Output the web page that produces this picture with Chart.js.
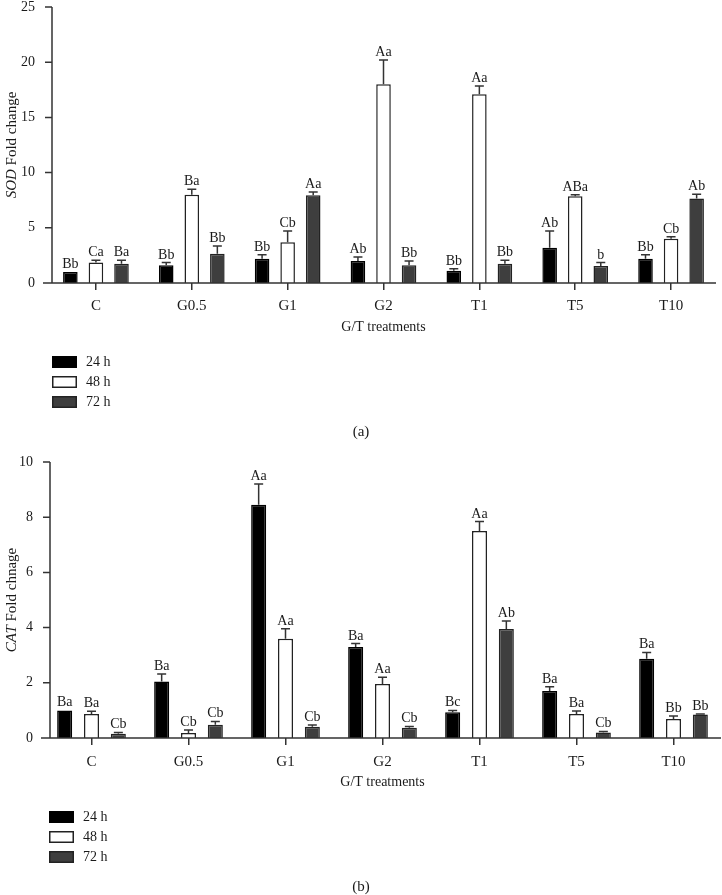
<!DOCTYPE html>
<html>
<head>
<meta charset="utf-8">
<script src="https://cdn.jsdelivr.net/npm/chart.js@4.4.1/dist/chart.umd.min.js"></script>
<style>
    html, body { margin: 0; padding: 0; background: #fff; }
    canvas { display: block; }
</style>
</head>
<body>
<canvas id="sodChart" width="722" height="448"></canvas>
<canvas id="catChart" width="722" height="447"></canvas>
<script>
// 处理组与时间点
const treatments = ['C', 'G0.5', 'G1', 'G2', 'T1', 'T5', 'T10'];
const timeLabels = ['24 h', '48 h', '72 h'];

// (a) SOD 倍数变化
const sod24 = [1.0, 1.6, 2.2, 2.0, 1.1, 3.2, 2.2];
const sod48 = [1.85, 8.0, 3.7, 18.0, 17.1, 7.85, 4.0];
const sod72 = [1.75, 2.65, 7.95, 1.6, 1.75, 1.55, 7.65];
const sodErr24 = [0, 0.25, 0.35, 0.35, 0.2, 1.5, 0.35];
const sodErr48 = [0.2, 0.5, 1.0, 2.2, 0.75, 0.15, 0.2];
const sodErr72 = [0.3, 0.7, 0.3, 0.4, 0.3, 0.3, 0.4];
const sodLetters24 = ['Bb', 'Bb', 'Bb', 'Ab', 'Bb', 'Ab', 'Bb'];
const sodLetters48 = ['Ca', 'Ba', 'Cb', 'Aa', 'Aa', 'ABa', 'Cb'];
const sodLetters72 = ['Ba', 'Bb', 'Aa', 'Bb', 'Bb', 'b', 'Ab'];
const sodTicks = [0, 5, 10, 15, 20, 25];

// (b) CAT 倍数变化
const cat24 = [1.0, 2.05, 8.45, 3.3, 0.93, 1.7, 2.87];
const cat48 = [0.87, 0.18, 3.6, 1.96, 7.5, 0.87, 0.69];
const cat72 = [0.15, 0.48, 0.41, 0.37, 3.95, 0.2, 0.85];
const catErr24 = [0, 0.27, 0.75, 0.12, 0.07, 0.16, 0.23];
const catErr48 = [0.1, 0.11, 0.36, 0.24, 0.34, 0.11, 0.11];
const catErr72 = [0.05, 0.12, 0.06, 0.05, 0.29, 0.04, 0.02];
const catLetters24 = ['Ba', 'Ba', 'Aa', 'Ba', 'Bc', 'Ba', 'Ba'];
const catLetters48 = ['Ba', 'Cb', 'Aa', 'Aa', 'Aa', 'Ba', 'Bb'];
const catLetters72 = ['Cb', 'Cb', 'Cb', 'Cb', 'Ab', 'Cb', 'Bb'];
const catTicks = [0, 2, 4, 6, 8, 10];

const FONT = '"Liberation Serif", "Times New Roman", serif';
const INK = '#1a1a1a';
const AXIS = '#333';

const barFills = ['#000000', '#ffffff', '#3e3e3e'];
const barBorders = ['#000000', '#222222', '#222222'];

/**
 * 误差线、显著性字母、坐标轴、图例等
 */
const panelDecor = {
    id: 'panelDecor',
    afterDatasetsDraw(chart) {
        const ctx = chart.ctx;
        const yScale = chart.scales.y;
        chart.data.datasets.forEach((ds, i) => {
            const meta = chart.getDatasetMeta(i);
            meta.data.forEach((bar, j) => {
                const err = ds.errors[j];
                const yTop = yScale.getPixelForValue(ds.data[j] + err);
                ctx.save();
                if (err > 0) {
                    ctx.strokeStyle = AXIS;
                    ctx.lineWidth = 1.5;
                    ctx.beginPath();
                    ctx.moveTo(bar.x, bar.y);
                    ctx.lineTo(bar.x, yTop);
                    ctx.moveTo(bar.x - 4.5, yTop);
                    ctx.lineTo(bar.x + 4.5, yTop);
                    ctx.stroke();
                }
                ctx.fillStyle = INK;
                ctx.font = '14px ' + FONT;
                ctx.textAlign = 'center';
                ctx.textBaseline = 'alphabetic';
                ctx.fillText(ds.letters[j], bar.x, yTop - 4);
                ctx.restore();
            });
        });
    },
    afterDraw(chart) {
        const o = chart.options.plugins.panelDecor;
        const ctx = chart.ctx;
        const area = chart.chartArea;
        const yScale = chart.scales.y;

        ctx.save();
        ctx.strokeStyle = AXIS;
        ctx.lineWidth = 1.5;
        ctx.beginPath();
        // y 轴
        ctx.moveTo(o.yAxisX, area.bottom);
        ctx.lineTo(o.yAxisX, area.top);
        yScale.ticks.forEach(t => {
            const py = yScale.getPixelForValue(t.value);
            ctx.moveTo(o.yAxisX - 7, py);
            ctx.lineTo(o.yAxisX, py);
        });
        // x 轴
        ctx.moveTo(o.xAxisStart, area.bottom);
        ctx.lineTo(o.xAxisEnd, area.bottom);
        ctx.stroke();

        // y 轴标题（基因名斜体）
        const cy = (area.top + area.bottom) / 2;
        ctx.translate(12.5, cy);
        ctx.rotate(-Math.PI / 2);
        ctx.font = 'italic 15px ' + FONT;
        const w1 = ctx.measureText(o.gene).width;
        ctx.font = '15px ' + FONT;
        const w2 = ctx.measureText(o.yTitleRest).width;
        const sx = -(w1 + w2) / 2;
        ctx.fillStyle = INK;
        ctx.textAlign = 'left';
        ctx.textBaseline = 'middle';
        ctx.font = 'italic 15px ' + FONT;
        ctx.fillText(o.gene, sx, 0);
        ctx.font = '15px ' + FONT;
        ctx.fillText(o.yTitleRest, sx + w1, 0);
        ctx.restore();

        // 图例
        ctx.save();
        chart.data.datasets.forEach((ds, i) => {
            const ly = area.bottom + 73 + i * 20;
            ctx.fillStyle = ds.backgroundColor;
            ctx.fillRect(o.legendX, ly, 25, 12);
            ctx.strokeStyle = ds.borderColor;
            ctx.lineWidth = 1.5;
            ctx.strokeRect(o.legendX + 0.75, ly + 0.75, 23.5, 10.5);
            ctx.fillStyle = INK;
            ctx.font = '14px ' + FONT;
            ctx.textAlign = 'left';
            ctx.textBaseline = 'middle';
            ctx.fillText(ds.label, o.legendX + 34, ly + 6.5);
        });

        // 分图标号
        ctx.font = '15px ' + FONT;
        ctx.textAlign = 'center';
        ctx.textBaseline = 'middle';
        ctx.fillText(o.panel, 361, area.bottom + 149);
        ctx.restore();
    }
};

function buildDatasets(values, errors, letters, cp, bp) {
    return values.map((v, i) => ({
        label: timeLabels[i],
        data: v,
        errors: errors[i],
        letters: letters[i],
        backgroundColor: barFills[i],
        borderColor: barBorders[i],
        borderWidth: 1.5,
        categoryPercentage: cp,
        barPercentage: bp
    }));
}

function makeChart(canvasId, cfg) {
    const ctx = document.getElementById(canvasId);
    return new Chart(ctx, {
        type: 'bar',
        data: {
            labels: treatments,
            datasets: buildDatasets(cfg.values, cfg.errors, cfg.letters, cfg.cp, cfg.bp)
        },
        options: {
            responsive: false,
            animation: false,
            devicePixelRatio: 1,
            layout: { padding: cfg.padding },
            plugins: {
                legend: { display: false },
                tooltip: { enabled: false },
                panelDecor: cfg.decor
            },
            scales: {
                x: {
                    offset: true,
                    border: { display: false },
                    grid: {
                        display: true,
                        drawOnChartArea: false,
                        drawTicks: true,
                        tickLength: 7,
                        offset: false,
                        color: AXIS,
                        lineWidth: 1.5
                    },
                    ticks: {
                        color: INK,
                        padding: cfg.xLabelPad,
                        maxRotation: 0,
                        autoSkip: false,
                        font: { family: FONT, size: 15 }
                    },
                    title: {
                        display: true,
                        text: 'G/T treatments',
                        color: INK,
                        padding: 0,
                        font: { family: FONT, size: 14 }
                    },
                    afterFit(scale) {
                        scale.height = 53;
                        scale.paddingLeft = 0;
                        scale.paddingRight = 0;
                    }
                },
                y: {
                    min: 0,
                    max: cfg.ticks[cfg.ticks.length - 1],
                    border: { display: false },
                    grid: { display: false, drawTicks: false },
                    ticks: {
                        stepSize: cfg.ticks[1] - cfg.ticks[0],
                        color: INK,
                        padding: cfg.yLabelPad,
                        font: { family: FONT, size: 14 }
                    },
                    afterFit(scale) {
                        scale.width = cfg.yWidth;
                        scale.paddingTop = 0;
                        scale.paddingBottom = 0;
                    }
                }
            }
        },
        plugins: [panelDecor]
    });
}

makeChart('sodChart', {
    values: [sod24, sod48, sod72],
    errors: [sodErr24, sodErr48, sodErr72],
    letters: [sodLetters24, sodLetters48, sodLetters72],
    ticks: sodTicks,
    cp: 0.8,
    bp: 0.57,
    padding: { top: 7, left: 0, right: 3, bottom: 112 },
    yWidth: 48,
    yLabelPad: 13,
    xLabelPad: 7,
    decor: {
        yAxisX: 52, xAxisStart: 43, xAxisEnd: 716, legendX: 52,
        gene: 'SOD', yTitleRest: ' Fold change', panel: '(a)'
    }
});

makeChart('catChart', {
    values: [cat24, cat48, cat72],
    errors: [catErr24, catErr48, catErr72],
    letters: [catLetters24, catLetters48, catLetters72],
    ticks: catTicks,
    cp: 0.83,
    bp: 0.56,
    padding: { top: 14, left: 0, right: 0, bottom: 104 },
    yWidth: 43,
    yLabelPad: 10,
    xLabelPad: 8,
    decor: {
        yAxisX: 50, xAxisStart: 41, xAxisEnd: 721, legendX: 49,
        gene: 'CAT', yTitleRest: ' Fold chnage', panel: '(b)'
    }
});
</script>
</body>
</html>
